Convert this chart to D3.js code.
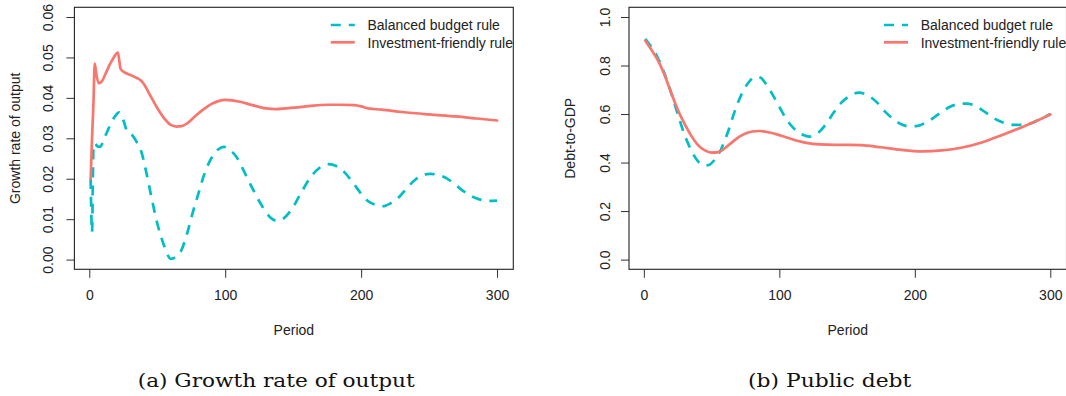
<!DOCTYPE html>
<html>
<head>
<meta charset="utf-8">
<script src="https://cdn.jsdelivr.net/npm/d3@7"></script>
<style>
  html, body { margin: 0; padding: 0; background: #fff; }
  svg { display: block; }
  .axis text { font-family: "Liberation Sans", Arial, sans-serif; font-size: 14px; fill: #222; }
  .axis line { stroke: #333; }
  .axis path { stroke: #333; }
  .lab { font-family: "Liberation Sans", Arial, sans-serif; font-size: 14px; fill: #222; }
  .cap { font-family: "DejaVu Serif", serif; font-size: 18.5px; fill: #111; }
</style>
</head>
<body>
<svg id="fig" width="1066" height="396"></svg>
<script>
// ---- Growth rate of output ----
const growthBalancedPeriods = [1, 2, 3, 4, 6, 8, 11, 15, 19, 22, 25, 28, 32, 35, 38, 42, 46, 50, 55, 60, 64, 68, 72, 76, 80, 85, 90, 95, 99, 104, 109, 115, 121, 127, 133, 138, 143, 148, 155, 162, 169, 176, 182, 188, 194, 200, 205, 210, 216, 222, 228, 234, 240, 246, 251, 257, 263, 269, 275, 281, 287, 293, 300];
const growthBalanced = [0.0200, 0.0068, 0.0270, 0.0288, 0.0280, 0.0279, 0.0300, 0.0330, 0.0355, 0.0364, 0.0345, 0.0316, 0.0306, 0.0290, 0.0270, 0.0215, 0.0150, 0.0090, 0.0035, 0.0002, 0.0008, 0.0025, 0.0065, 0.0115, 0.0160, 0.0215, 0.0252, 0.0273, 0.0279, 0.0270, 0.0250, 0.0210, 0.0170, 0.0133, 0.0105, 0.0096, 0.0102, 0.0120, 0.0160, 0.0200, 0.0226, 0.0236, 0.0231, 0.0215, 0.0190, 0.0163, 0.0145, 0.0136, 0.0132, 0.0140, 0.0155, 0.0178, 0.0198, 0.0210, 0.0212, 0.0209, 0.0201, 0.0186, 0.0170, 0.0157, 0.0149, 0.0145, 0.0146];

const growthFriendlyPeriods = [1, 2, 3, 4, 5, 7, 9, 12, 15, 18, 20, 21, 23, 25, 30, 35, 38, 40, 45, 50, 55, 60, 64, 68, 72, 78, 85, 90, 95, 100, 105, 110, 120, 130, 137, 145, 155, 165, 175, 185, 195, 200, 205, 215, 230, 250, 270, 285, 300];
const growthFriendly = [0.0200, 0.0300, 0.0380, 0.0485, 0.0462, 0.0436, 0.0440, 0.0460, 0.0482, 0.0500, 0.0510, 0.0512, 0.0472, 0.0465, 0.0457, 0.0449, 0.0443, 0.0435, 0.0405, 0.0375, 0.0350, 0.0333, 0.0329, 0.0330, 0.0337, 0.0355, 0.0374, 0.0385, 0.0392, 0.0395, 0.0394, 0.0391, 0.0382, 0.0374, 0.0372, 0.0374, 0.0377, 0.0381, 0.0383, 0.0383, 0.0382, 0.0379, 0.0374, 0.0371, 0.0365, 0.0359, 0.0354, 0.0349, 0.0344];

// ---- Public debt (debt-to-GDP) ----
const debtBalancedPeriods = [1, 5, 10, 15, 20, 25, 30, 35, 40, 45, 48, 52, 57, 62, 67, 72, 77, 82, 86, 90, 95, 100, 105, 110, 116, 122, 128, 134, 140, 146, 152, 159, 166, 172, 178, 184, 190, 196, 202, 208, 214, 220, 226, 232, 238, 244, 250, 256, 262, 268, 274, 280, 286, 292, 300];
const debtBalanced = [0.910, 0.880, 0.835, 0.770, 0.690, 0.600, 0.515, 0.450, 0.405, 0.388, 0.390, 0.410, 0.455, 0.525, 0.610, 0.680, 0.728, 0.752, 0.750, 0.725, 0.680, 0.630, 0.580, 0.545, 0.518, 0.507, 0.520, 0.555, 0.605, 0.648, 0.675, 0.688, 0.675, 0.648, 0.610, 0.580, 0.558, 0.549, 0.551, 0.565, 0.585, 0.610, 0.630, 0.641, 0.643, 0.635, 0.615, 0.592, 0.572, 0.560, 0.555, 0.555, 0.562, 0.578, 0.600];

const debtFriendlyPeriods = [1, 5, 10, 15, 20, 25, 30, 35, 40, 45, 50, 55, 60, 65, 70, 75, 80, 85, 90, 100, 110, 120, 130, 145, 160, 175, 190, 205, 220, 235, 250, 265, 280, 290, 300];
const debtFriendly = [0.903, 0.870, 0.825, 0.765, 0.690, 0.618, 0.560, 0.510, 0.472, 0.450, 0.441, 0.443, 0.460, 0.483, 0.505, 0.520, 0.528, 0.530, 0.527, 0.513, 0.495, 0.481, 0.475, 0.473, 0.472, 0.463, 0.452, 0.446, 0.450, 0.462, 0.484, 0.515, 0.548, 0.572, 0.598];

// ---- Axis ticks and labels ----
const periodTicks = [0, 100, 200, 300];
const growthTicks = [0, 0.01, 0.02, 0.03, 0.04, 0.05, 0.06];
const debtTicks = [0, 0.2, 0.4, 0.6, 0.8, 1.0];
const seriesNames = ["Balanced budget rule", "Investment-friendly rule"];
const seriesColors = ["#00BFC4", "#F8766D"];

const svg = d3.select("#fig");

// R-style axis extension: 4% padding on each side of the data range
function padded(lo, hi) {
  const d = (hi - lo) * 0.04;
  return [lo - d, hi + d];
}

function panel(opts) {
  const { left, right, top, bottom, yDomain, yTicks, yFormat, yTitle, yTickBase, yTitleBase,
          series, caption, captionX, captionW } = opts;

  const x = d3.scaleLinear().domain(padded(1, 300)).range([left, right]);
  const y = d3.scaleLinear().domain(padded(yDomain[0], yDomain[1])).range([bottom, top]);

  const g = svg.append("g");

  // series lines
  const line = d3.line()
    .x(d => x(d[0]))
    .y(d => y(d[1]))
    .curve(d3.curveMonotoneX);

  series.forEach(s => {
    const pts = s.periods.map((p, i) => [p, s.values[i]]);
    g.append("path")
      .datum(pts)
      .attr("d", line)
      .attr("fill", "none")
      .attr("stroke", s.color)
      .attr("stroke-width", 2.7)
      .attr("stroke-linejoin", "round")
      .attr("stroke-linecap", s.dashed ? "butt" : "round")
      .attr("stroke-dasharray", s.dashed ? "10,8" : null);
  });

  // bottom axis
  const xa = g.append("g")
    .attr("class", "axis")
    .attr("transform", `translate(0,${bottom})`)
    .call(d3.axisBottom(x).tickValues(periodTicks).tickFormat(d3.format("d"))
      .tickSize(8.5).tickSizeOuter(0).tickPadding(12.3));
  xa.select(".domain").remove();

  // left axis with rotated labels
  const ya = g.append("g")
    .attr("class", "axis")
    .attr("transform", `translate(${left},0)`)
    .call(d3.axisLeft(y).tickValues(yTicks).tickFormat(yFormat)
      .tickSize(8).tickSizeOuter(0));
  ya.select(".domain").remove();
  ya.selectAll(".tick text")
    .attr("x", 0)
    .attr("dy", 0)
    .attr("text-anchor", "middle")
    .attr("transform", `translate(${yTickBase - left},0) rotate(-90)`);

  // plot frame
  g.append("rect")
    .attr("x", left).attr("y", top)
    .attr("width", right - left).attr("height", bottom - top)
    .attr("fill", "none").attr("stroke", "#222").attr("stroke-width", 1.1);

  // axis titles
  g.append("text")
    .attr("class", "lab")
    .attr("text-anchor", "middle")
    .attr("x", (left + right) / 2)
    .attr("y", 335)
    .text("Period");

  g.append("text")
    .attr("class", "lab")
    .attr("text-anchor", "middle")
    .attr("transform", `translate(${yTitleBase},${(top + bottom) / 2}) rotate(-90)`)
    .text(yTitle);

  // legend (top right, no frame)
  const lgx = right - 182.5;
  series.forEach((s, i) => {
    const ly = 25 + i * 17.3;
    g.append("line")
      .attr("x1", lgx).attr("x2", lgx + 24)
      .attr("y1", ly).attr("y2", ly)
      .attr("stroke", s.color)
      .attr("stroke-width", 2.7)
      .attr("stroke-linecap", "butt")
      .attr("stroke-dasharray", s.dashed ? "10,8" : null);
    g.append("text")
      .attr("class", "lab")
      .attr("x", right - 145.8)
      .attr("y", ly + 5.2)
      .text(s.name);
  });

  // sub-figure caption
  svg.append("text")
    .attr("class", "cap")
    .attr("x", captionX - captionW / 2)
    .attr("y", 386.5)
    .attr("textLength", captionW)
    .attr("lengthAdjust", "spacingAndGlyphs")
    .text(caption);
}

panel({
  left: 74.4, right: 513.3, top: 7.3, bottom: 269.3,
  yDomain: [0, 0.06], yTicks: growthTicks, yFormat: d3.format(".2f"),
  yTitle: "Growth rate of output", yTickBase: 53.3, yTitleBase: 20,
  series: [
    { name: seriesNames[0], color: seriesColors[0], dashed: true, periods: growthBalancedPeriods, values: growthBalanced },
    { name: seriesNames[1], color: seriesColors[1], dashed: false, periods: growthFriendlyPeriods, values: growthFriendly }
  ],
  caption: "(a) Growth rate of output", captionX: 276.2, captionW: 277
});

panel({
  left: 629, right: 1066.5, top: 7.3, bottom: 269.3,
  yDomain: [0, 1], yTicks: debtTicks, yFormat: d3.format(".1f"),
  yTitle: "Debt-to-GDP", yTickBase: 610, yTitleBase: 575,
  series: [
    { name: seriesNames[0], color: seriesColors[0], dashed: true, periods: debtBalancedPeriods, values: debtBalanced },
    { name: seriesNames[1], color: seriesColors[1], dashed: false, periods: debtFriendlyPeriods, values: debtFriendly }
  ],
  caption: "(b) Public debt", captionX: 829.7, captionW: 163.3
});
</script>
</body>
</html>
